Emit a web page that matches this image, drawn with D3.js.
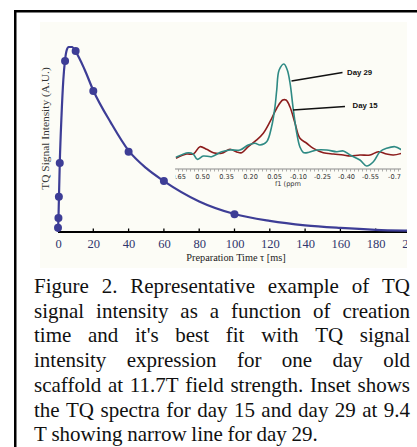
<!DOCTYPE html>
<html><head><meta charset="utf-8">
<script src="https://cdn.jsdelivr.net/npm/d3@7"></script>
<style>html,body{margin:0;padding:0;background:#fff;}svg{display:block;}</style>
</head><body>
<svg id="c" width="417" height="447"></svg>
<script>
// ---- main data: TQ signal vs preparation time ----
const pointTimes  = [0, 0.25, 0.5, 1, 4, 10, 20, 40, 60, 100];
const pointValues = [0.023, 0.076, 0.19, 0.373, 0.924, 0.978, 0.762, 0.434, 0.276, 0.096];
const fitTimes  = [0, 0.25, 0.5, 1, 2, 3, 4, 5, 6, 8, 10, 15, 20, 30, 40, 50, 60, 80, 100, 120, 140, 160, 180, 200, 205];
const fitValues = [0, 0.07, 0.17, 0.37, 0.63, 0.82, 0.93, 0.985, 1.0, 1.0, 0.975, 0.88, 0.765, 0.59, 0.44, 0.345, 0.275, 0.165, 0.097, 0.06, 0.036, 0.022, 0.012, 0.007, 0.006];
const xTicks = [0, 20, 40, 60, 80, 100, 120, 140, 160, 180, 200];
// ---- inset spectra ----
const day29Ppm = [0.666,0.589,0.558,0.533,0.495,0.443,0.380,0.328,0.266,0.214,0.172,0.141,0.099,0.068,0.047,0.036,0.021,-0.009,-0.030,-0.047,-0.068,-0.089,-0.109,-0.130,-0.161,-0.214,-0.276,-0.339,-0.380,-0.422,-0.484,-0.526,-0.568,-0.609,-0.651,-0.703,-0.745];
const day29Val = [0.106,0.148,0.136,0.088,0.118,0.112,0.157,0.173,0.173,0.218,0.234,0.218,0.248,0.385,0.566,0.718,0.900,0.955,0.900,0.782,0.536,0.327,0.200,0.150,0.150,0.173,0.173,0.157,0.164,0.127,0.082,0.027,0.066,0.157,0.188,0.203,0.173];
const day15Ppm = [0.666,0.599,0.557,0.516,0.474,0.432,0.380,0.328,0.286,0.255,0.214,0.161,0.120,0.078,0.036,-0.001,-0.022,-0.047,-0.078,-0.109,-0.151,-0.193,-0.255,-0.318,-0.380,-0.422,-0.484,-0.547,-0.599,-0.651,-0.693,-0.745];
const day15Val = [0.097,0.136,0.136,0.203,0.179,0.148,0.143,0.179,0.155,0.148,0.203,0.264,0.325,0.430,0.552,0.627,0.627,0.564,0.418,0.279,0.234,0.188,0.148,0.136,0.127,0.118,0.127,0.127,0.157,0.136,0.127,0.143];
const insetTicks = [0.65, 0.50, 0.35, 0.20, 0.05, -0.10, -0.25, -0.40, -0.55, -0.70];
const insetTickLabels = ["0.65","0.50","0.35","0.20","0.05","-0.10","-0.25","-0.40","-0.55","-0.7"];
const seriesNames = ["Day 29", "Day 15"];
const captionLines = [
  "Figure 2. Representative example of TQ",
  "signal intensity as a function of creation",
  "time and it's best fit with TQ signal",
  "intensity expression for one day old",
  "scaffold at 11.7T field strength. Inset shows",
  "the TQ spectra for day 15 and day 29 at 9.4",
  "T showing narrow line for day 29."
];

const svg = d3.select("#c");
const blue = "#3d3d96", teal = "#2e8a84", red = "#8c1d1d";
const defs = svg.append("defs");

// frame
svg.append("rect").attr("x", 15.25).attr("y", 11.25).attr("width", 440).attr("height", 460)
  .attr("fill", "#fff").attr("stroke", "#000").attr("stroke-width", 2.5);

// chart image region (clipped at its right edge like the reference)
defs.append("clipPath").attr("id", "mclip")
  .append("rect").attr("x", 40).attr("y", 20).attr("width", 367).attr("height", 250);
const chart = svg.append("g").attr("clip-path", "url(#mclip)");
chart.append("rect").attr("x", 40).attr("y", 22).attr("width", 367).attr("height", 246).attr("fill", "#fcfcf6");

const x = d3.scaleLinear().domain([0, 200]).range([58, 411]);
const y = d3.scaleLinear().domain([0, 1]).range([232, 47]);

// x axis
const xAxis = d3.axisBottom(x).tickValues(xTicks).tickSize(0).tickPadding(7).tickFormat(d3.format("d"));
const gx = chart.append("g").attr("transform", "translate(0,232)").call(xAxis);
gx.select(".domain").remove();
gx.selectAll("text").attr("font-family", "Liberation Serif").attr("font-size", 12.5).attr("fill", "#2f356d");
chart.append("line").attr("x1", x(0)).attr("x2", 410).attr("y1", 232).attr("y2", 232).attr("stroke", "#000").attr("stroke-width", 2);
chart.append("g").selectAll("line").data(xTicks).join("line")
  .attr("x1", d => x(d)).attr("x2", d => x(d)).attr("y1", 232).attr("y2", 228.5)
  .attr("stroke", "#000").attr("stroke-width", 1.3);

// fit curve
const fitData = fitTimes.map((t, i) => [t, fitValues[i]]);
chart.append("path").datum(fitData)
  .attr("d", d3.line().x(d => x(d[0])).y(d => y(d[1])).curve(d3.curveMonotoneX))
  .attr("fill", "none").attr("stroke", blue).attr("stroke-width", 2.2);
// points
chart.append("g").selectAll("circle").data(pointTimes.map((t, i) => [t, pointValues[i]])).join("circle")
  .attr("cx", d => x(d[0])).attr("cy", d => y(d[1])).attr("r", 4).attr("fill", blue);

// axis titles
chart.append("text").attr("x", 236).attr("y", 261).attr("text-anchor", "middle")
  .attr("font-family", "Liberation Serif").attr("font-size", 10.3).attr("fill", "#222")
  .text("Preparation Time \u03c4 [ms]");
chart.append("text").attr("transform", "translate(48.5,128.5) rotate(-90)").attr("text-anchor", "middle")
  .attr("font-family", "Liberation Serif").attr("font-size", 11.4).attr("fill", "#333")
  .text("TQ Signal Intensity (A.U.)");

// ---- inset ----
const xs = d3.scaleLinear().domain([0.05, -0.10]).range([274.5, 298.5]);
const ys = d3.scaleLinear().domain([0, 1]).range([169, 59]);
defs.append("clipPath").attr("id", "iclip")
  .append("rect").attr("x", 175).attr("y", 40).attr("width", 226).attr("height", 160);
const ig = svg.append("g").attr("clip-path", "url(#iclip)");
ig.append("line").attr("x1", 170).attr("x2", 401).attr("y1", 169).attr("y2", 169).attr("stroke", "#8a8a8a").attr("stroke-width", 1);
const minor = d3.range(0.70, -0.76, -0.025);
ig.append("g").selectAll("line").data(minor).join("line")
  .attr("x1", d => xs(d)).attr("x2", d => xs(d)).attr("y1", 169).attr("y2", 171.5)
  .attr("stroke", "#9a9a9a").attr("stroke-width", 0.8);
ig.append("g").selectAll("text").data(insetTicks).join("text")
  .attr("x", d => xs(d)).attr("y", 179).attr("text-anchor", "middle")
  .attr("font-family", "DejaVu Sans").attr("font-size", 6.6).attr("fill", "#333")
  .text((d, i) => insetTickLabels[i]);
ig.append("text").attr("x", 288).attr("y", 186).attr("text-anchor", "middle")
  .attr("font-family", "DejaVu Sans").attr("font-size", 6.6).attr("fill", "#333").text("f1 (ppm");
const sline = d3.line().x(d => xs(d[0])).y(d => ys(d[1])).curve(d3.curveCatmullRom.alpha(0.5));
ig.append("path").datum(day15Ppm.map((p, i) => [p, day15Val[i]])).attr("d", sline)
  .attr("fill", "none").attr("stroke", red).attr("stroke-width", 1.6);
ig.append("path").datum(day29Ppm.map((p, i) => [p, day29Val[i]])).attr("d", sline)
  .attr("fill", "none").attr("stroke", teal).attr("stroke-width", 1.6);

// labels with leader lines
svg.append("line").attr("x1", 291.5).attr("y1", 81).attr("x2", 342.5).attr("y2", 72.5).attr("stroke", "#111").attr("stroke-width", 1.4);
svg.append("line").attr("x1", 293).attr("y1", 110).attr("x2", 345).attr("y2", 106.5).attr("stroke", "#111").attr("stroke-width", 1.4);
svg.append("text").attr("x", 347).attr("y", 74.5).attr("font-family", "Liberation Sans").attr("font-weight", "bold")
  .attr("font-size", 7.8).attr("fill", "#111").text(seriesNames[0]);
svg.append("text").attr("x", 352.5).attr("y", 108).attr("font-family", "Liberation Sans").attr("font-weight", "bold")
  .attr("font-size", 7.8).attr("fill", "#111").text(seriesNames[1]);

// ---- caption (justified) ----
const capLeft = 34, capRight = 410, capBase = 293, capStep = 24.7;
captionLines.forEach((line, li) => {
  const words = line.split(" ");
  const g = svg.append("g");
  const nodes = words.map(w => g.append("text").attr("y", capBase + li * capStep)
    .attr("font-family", "Liberation Serif").attr("font-size", 21).attr("fill", "#111").text(w));
  const widths = nodes.map(n => n.node().getComputedTextLength());
  const total = widths.reduce((a, b) => a + b, 0);
  const last = li === captionLines.length - 1;
  const gap = last ? 4.6 : (capRight - capLeft - total) / (words.length - 1);
  let cx = capLeft;
  nodes.forEach((n, i) => { n.attr("x", cx); cx += widths[i] + gap; });
});
</script>
</body></html>
